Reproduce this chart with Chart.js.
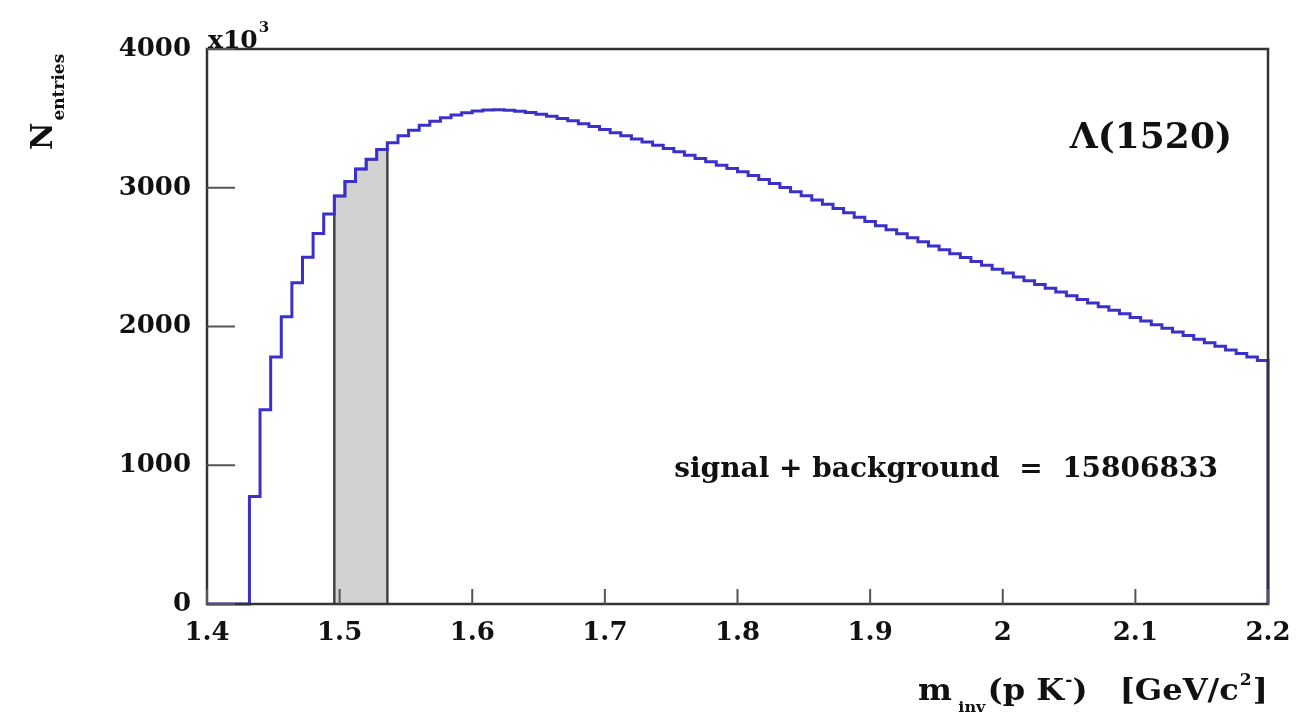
<!DOCTYPE html>
<html>
<head>
<meta charset="utf-8">
<script src="https://cdn.jsdelivr.net/npm/chart.js@4.4.1/dist/chart.umd.min.js"></script>
<style>
  html, body { margin: 0; padding: 0; background: #fff; }
  #wrap { width: 1313px; height: 724px; position: relative; }
</style>
</head>
<body>
<div id="wrap"><canvas id="chart"></canvas></div>
<script>
// histogram binning: 100 bins of 0.008 GeV/c^2 from 1.4 to 2.2
const binStart = 1.4;
const binWidth = 0.008;
const xMin = 1.4;
const xMax = 2.2;

// entries per bin, in units of 10^3
const counts = [
  0, 0, 0, 0, 775, 1400, 1780, 2070, 2315, 2500,
  2670, 2810, 2940, 3045, 3135, 3205, 3275, 3325, 3375, 3415,
  3450, 3480, 3505, 3525, 3541, 3553, 3560, 3563, 3559, 3552,
  3542, 3530, 3516, 3500, 3482, 3462, 3441, 3419, 3397, 3375,
  3352, 3329, 3306, 3283, 3259, 3235, 3211, 3187, 3163, 3139,
  3115, 3088, 3060, 3031, 3002, 2972, 2942, 2912, 2881, 2850,
  2819, 2788, 2757, 2727, 2697, 2668, 2639, 2610, 2581, 2553,
  2525, 2497, 2469, 2441, 2413, 2385, 2357, 2329, 2302, 2275,
  2248, 2221, 2195, 2169, 2143, 2117, 2091, 2065, 2039, 2013,
  1987, 1961, 1935, 1909, 1883, 1857, 1831, 1805, 1780, 1755
];

// shaded signal window (bin indices, inclusive)
const shadeFirstBin = 12;
const shadeLastBin = 16;

const xTicks = [1.4, 1.5, 1.6, 1.7, 1.8, 1.9, 2.0, 2.1, 2.2];
const yTicks = [0, 1000, 2000, 3000, 4000];

const particleLabel = 'Λ(1520)';
const totalLabel = 'signal + background  =  15806833';

const edge = i => Number((binStart + i * binWidth).toFixed(3));

// points sit on the low edge of each bin; 'before' draws horizontal then vertical
const histPoints = counts.map((c, i) => ({ x: edge(i), y: c }));
histPoints.push({ x: xMax, y: counts[counts.length - 1] });
histPoints.push({ x: xMax, y: 0 });

const shadePoints = [{ x: edge(shadeFirstBin), y: 0 }];
for (let i = shadeFirstBin; i <= shadeLastBin; i++) {
  shadePoints.push({ x: edge(i), y: counts[i] });
}
shadePoints.push({ x: edge(shadeLastBin + 1), y: counts[shadeLastBin] });
shadePoints.push({ x: edge(shadeLastBin + 1), y: 0 });

const serif = '"DejaVu Serif", "Liberation Serif", serif';

// frame around the pad and inward ticks, ROOT style
const framePlugin = {
  id: 'frame',
  afterDatasetsDraw(chart) {
    const { ctx, chartArea: a, scales } = chart;
    ctx.save();
    ctx.strokeStyle = '#333';
    ctx.lineWidth = 2.5;
    ctx.strokeRect(a.left, a.top, a.right - a.left, a.bottom - a.top);
    ctx.lineWidth = 2;
    ctx.strokeStyle = '#555';
    ctx.beginPath();
    xTicks.forEach(v => {
      const px = scales.x.getPixelForValue(v);
      ctx.moveTo(px, a.bottom);
      ctx.lineTo(px, a.bottom - 15);
    });
    yTicks.forEach(v => {
      const py = scales.y.getPixelForValue(v);
      ctx.moveTo(a.left, py);
      ctx.lineTo(a.left + 28, py);
    });
    ctx.stroke();
    ctx.restore();
  }
};

const textPlugin = {
  id: 'texts',
  afterDraw(chart) {
    const { ctx, chartArea: a } = chart;
    ctx.save();
    ctx.fillStyle = '#111';
    ctx.textBaseline = 'alphabetic';
    ctx.textAlign = 'left';

    // x10^3 multiplier
    ctx.font = 'bold 25px ' + serif;
    ctx.fillText('x10', a.left + 1, a.top - 1);
    const w10 = ctx.measureText('x10').width;
    ctx.font = 'bold 15px ' + serif;
    ctx.fillText('3', a.left + 1 + w10 + 1, a.top - 17);

    // y title
    ctx.save();
    ctx.translate(52, 150);
    ctx.rotate(-Math.PI / 2);
    ctx.font = 'bold 30px ' + serif;
    ctx.fillText('N', 0, 0);
    const wN = ctx.measureText('N').width;
    ctx.font = 'bold 17px ' + serif;
    ctx.fillText('entries', wN + 2, 12);
    ctx.restore();

    // x title: pieces laid out then stretched to span 918..1268 like the original
    const pieces = [
      ['m', 30, 0, 6],
      ['inv', 15, 12, 2],
      ['(p K', 30, 0, 1],
      ['-', 16, -15, 0],
      [')', 30, 0, 30],
      ['[GeV/c', 30, 0, 1],
      ['2', 16, -15, 1],
      [']', 30, 0, 0]
    ];
    let total = 0;
    pieces.forEach(([t, s, , g]) => {
      ctx.font = 'bold ' + s + 'px ' + serif;
      total += ctx.measureText(t).width + g;
    });
    const sx = (1268 - 918) / total;
    ctx.save();
    ctx.translate(918, 700);
    ctx.scale(sx, 1);
    let x = 0;
    pieces.forEach(([t, s, dy, g]) => {
      ctx.font = 'bold ' + s + 'px ' + serif;
      ctx.fillText(t, x, dy);
      x += ctx.measureText(t).width + g;
    });
    ctx.restore();

    // annotations
    ctx.textAlign = 'right';
    ctx.font = 'bold 36px ' + serif;
    ctx.fillText(particleLabel, 1232, 148);
    ctx.font = 'bold 28px ' + serif;
    ctx.fillText(totalLabel, 1218, 477);
    ctx.restore();
  }
};

new Chart(document.getElementById('chart'), {
  type: 'line',
  data: {
    datasets: [
      {
        label: 'signal + background',
        data: histPoints,
        stepped: 'before',
        borderColor: '#3b30c9',
        borderWidth: 3,
        pointRadius: 0,
        fill: false,
        clip: 6,
        order: 0
      },
      {
        label: 'window',
        data: shadePoints,
        stepped: 'before',
        borderColor: '#444',
        borderWidth: 2.5,
        backgroundColor: '#d2d2d2',
        pointRadius: 0,
        fill: 'origin',
        clip: 6,
        order: 1
      }
    ]
  },
  options: {
    responsive: true,
    maintainAspectRatio: false,
    animation: false,
    layout: { padding: { left: 0, right: 45, top: 49, bottom: 0 } },
    plugins: {
      legend: { display: false },
      tooltip: { enabled: false }
    },
    scales: {
      x: {
        type: 'linear',
        min: xMin,
        max: xMax,
        afterFit: s => { s.height = 120; },
        afterBuildTicks: s => { s.ticks = xTicks.map(v => ({ value: v })); },
        grid: { display: false, drawTicks: false },
        border: { display: false },
        ticks: {
          padding: 14,
          color: '#111',
          font: { family: serif, weight: 'bold', size: 26 },
          callback: v => String(Math.round(v * 10) / 10)
        }
      },
      y: {
        min: 0,
        max: 4000,
        afterFit: s => { s.width = 207; },
        afterBuildTicks: s => { s.ticks = yTicks.map(v => ({ value: v })); },
        grid: { display: false, drawTicks: false },
        border: { display: false },
        ticks: {
          padding: 16,
          color: '#111',
          font: { family: serif, weight: 'bold', size: 26 },
          callback: v => String(v)
        }
      }
    }
  },
  plugins: [framePlugin, textPlugin]
});
</script>
</body>
</html>
